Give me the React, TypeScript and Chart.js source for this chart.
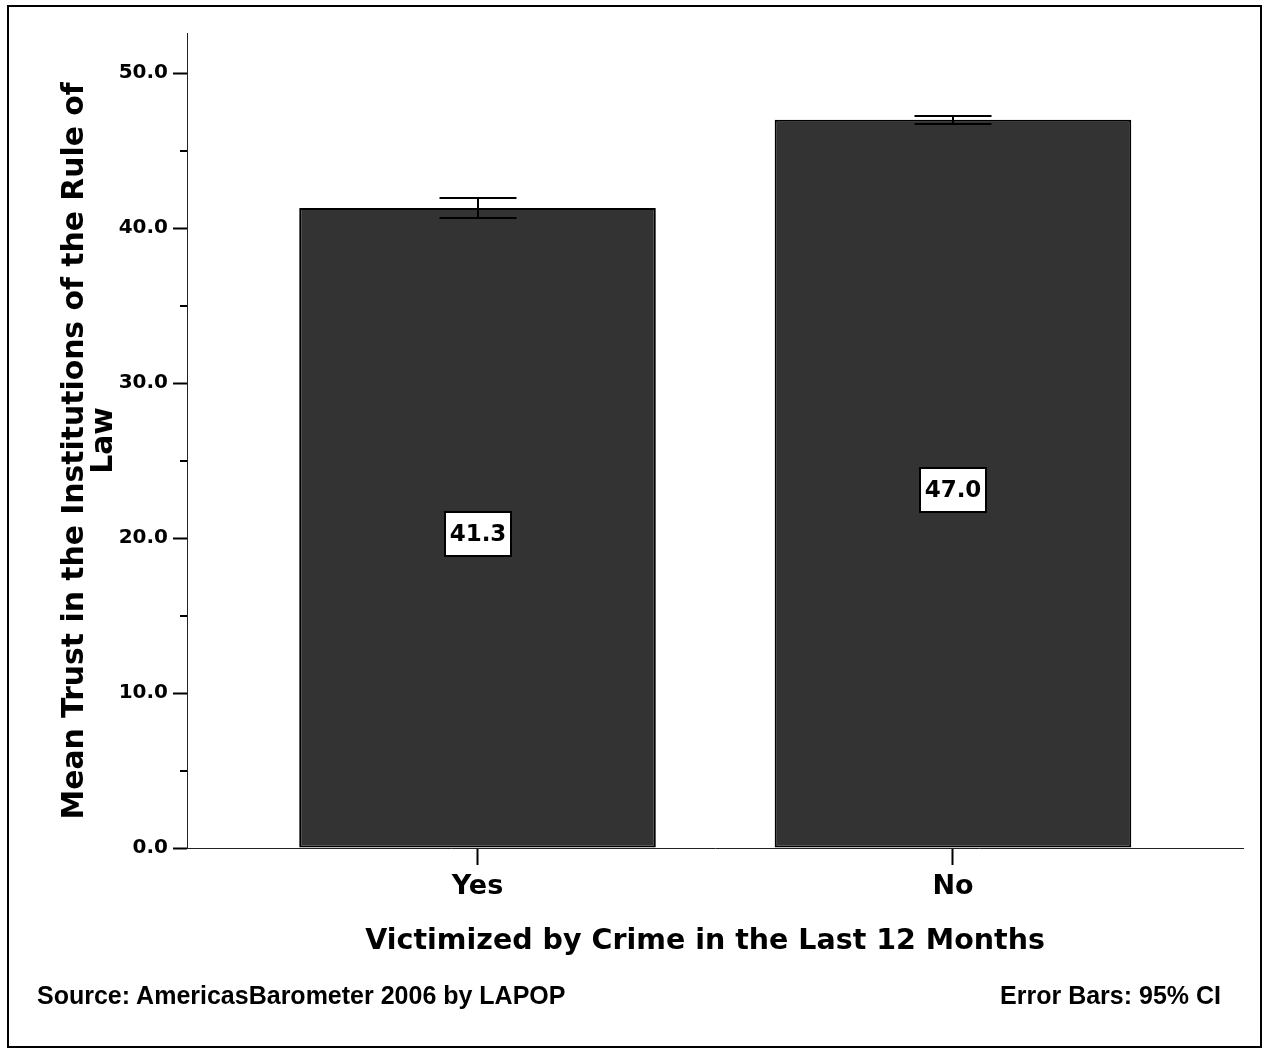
import React, { useEffect, useRef } from 'react';
import { Chart, registerables } from 'chart.js';

Chart.register(...registerables);

const categories = ['Yes', 'No'];
const meanValues = [41.3, 47.0];
const ciLower = [40.66, 46.72];
const ciUpper = [41.92, 47.27];
const yMajorTicks = [0, 10, 20, 30, 40, 50];
const yMinorTicks = [5, 15, 25, 35, 45];
const yTitleLines = ['Mean Trust in the Institutions of the Rule of  ', 'Law'];
const xTitle = 'Victimized by Crime in the Last 12 Months';
const sourceNote = 'Source: AmericasBarometer 2006 by LAPOP';
const errorNote = 'Error Bars: 95% CI';

const HEAVY = '"DejaVu Sans", sans-serif';
const ARIAL = '"Liberation Sans", Arial, sans-serif';

const overlayPlugin = {
  id: 'overlay',
  afterDatasetsDraw(chart: any) {
    const ctx = chart.ctx;
    const xs = chart.scales.x;
    const ys = chart.scales.y;
    ctx.save();
    ctx.strokeStyle = '#000';
    ctx.lineWidth = 2;
    // minor ticks on the value axis
    yMinorTicks.forEach((v) => {
      const y = Math.round(ys.getPixelForValue(v));
      ctx.beginPath();
      ctx.moveTo(ys.right - 7, y);
      ctx.lineTo(ys.right, y);
      ctx.stroke();
    });
    meanValues.forEach((m, i) => {
      const x = Math.round(xs.getPixelForValue(i));
      const yu = Math.round(ys.getPixelForValue(ciUpper[i]));
      const yl = Math.round(ys.getPixelForValue(ciLower[i]));
      ctx.strokeStyle = '#000';
      ctx.lineWidth = 2;
      ctx.beginPath();
      ctx.moveTo(x, yu);
      ctx.lineTo(x, yl);
      ctx.moveTo(x - 38.5, yu);
      ctx.lineTo(x + 38.5, yu);
      ctx.moveTo(x - 38.5, yl);
      ctx.lineTo(x + 38.5, yl);
      ctx.stroke();

      const cy = Math.round(ys.getPixelForValue(m / 2)) + 6;
      ctx.fillStyle = '#fff';
      ctx.fillRect(x - 33, cy - 22, 66, 44);
      ctx.strokeRect(x - 33, cy - 22, 66, 44);
      ctx.fillStyle = '#000';
      ctx.font = 'bold 23px ' + HEAVY;
      ctx.textAlign = 'center';
      ctx.textBaseline = 'middle';
      ctx.fillText(m.toFixed(1), x, cy + 1);
    });
    ctx.restore();
  },
};

export default function App() {
  const canvasRef = useRef<HTMLCanvasElement | null>(null);

  useEffect(() => {
    const canvas = canvasRef.current;
    if (!canvas) return;
    const chart = new Chart(canvas, {
      type: 'bar',
      data: {
        datasets: [
          {
            label: 'Mean',
            data: meanValues.map((v, i) => ({ x: i, y: v })),
            backgroundColor: '#333333',
            borderColor: '#000000',
            borderWidth: 2,
            borderSkipped: false,
            barPercentage: 0.75,
            categoryPercentage: 1,
          },
        ],
      },
      options: {
        responsive: false,
        animation: false,
        devicePixelRatio: 1,
        layout: { padding: { top: 33, right: 26, bottom: 0, left: 0 } },
        plugins: {
          legend: { display: false },
          tooltip: { enabled: false },
        },
        scales: {
          x: {
            type: 'linear',
            offset: false,
            min: -0.611,
            max: 1.61,
            afterBuildTicks: (scale: any) => {
              scale.ticks = categories.map((_, i) => ({ value: i }));
            },
            afterFit: (scale: any) => {
              scale.height = 207;
            },
            grid: {
              offset: false,
              drawOnChartArea: false,
              drawTicks: true,
              tickLength: 17,
              tickWidth: 2,
              tickColor: '#000',
            },
            border: { display: true, color: '#222', width: 1 },
            ticks: {
              padding: 6,
              color: '#000',
              font: { family: HEAVY, weight: 'bold', size: 27 },
              callback: (v: any) => categories[Math.round(Number(v))] ?? '',
              maxRotation: 0,
              autoSkip: false,
            },
            title: {
              display: true,
              text: xTitle + '  ',
              color: '#000',
              font: { family: HEAVY, weight: 'bold', size: 28.5 },
              padding: { top: 0, bottom: 96 },
            },
          },
          y: {
            type: 'linear',
            min: 0,
            max: 52.6,
            afterBuildTicks: (scale: any) => {
              scale.ticks = [...yMajorTicks].map((v) => ({ value: v }));
            },
            afterFit: (scale: any) => {
              scale.width = 187;
            },
            grid: {
              drawOnChartArea: false,
              drawTicks: true,
              tickLength: 14,
              tickWidth: 2,
              tickColor: '#000',
            },
            border: { display: true, color: '#222', width: 1 },
            ticks: {
              padding: 5,
              color: '#000',
              font: { family: HEAVY, weight: 'bold', size: 20 },
              callback: (v: any) => Number(v).toFixed(1),
            },
            title: {
              display: true,
              text: yTitleLines,
              color: '#000',
              font: { family: HEAVY, weight: 'bold', size: 29.8, lineHeight: 1.0 },
              padding: { top: 60, bottom: 0 },
            },
          },
        },
      },
      plugins: [overlayPlugin],
    } as any);
    return () => chart.destroy();
  }, []);

  return (
    <div style={{ position: 'absolute', left: 0, top: 0, width: 1269, height: 1055, background: '#fff' }}>
      <canvas ref={canvasRef} width={1269} height={1055} style={{ position: 'absolute', left: 0, top: 0 }} />
      <div
        style={{
          position: 'absolute',
          left: 7,
          top: 5,
          width: 1255,
          height: 1043,
          border: '2px solid #000',
          boxSizing: 'border-box',
          pointerEvents: 'none',
        }}
      />
      <div
        style={{
          position: 'absolute',
          left: 37,
          top: 983,
          font: 'bold 25px ' + ARIAL,
          lineHeight: '25px',
          color: '#000',
          whiteSpace: 'nowrap',
        }}
      >
        {sourceNote}
      </div>
      <div
        style={{
          position: 'absolute',
          right: 48,
          top: 983,
          font: 'bold 25px ' + ARIAL,
          lineHeight: '25px',
          color: '#000',
          whiteSpace: 'nowrap',
        }}
      >
        {errorNote}
      </div>
    </div>
  );
}
